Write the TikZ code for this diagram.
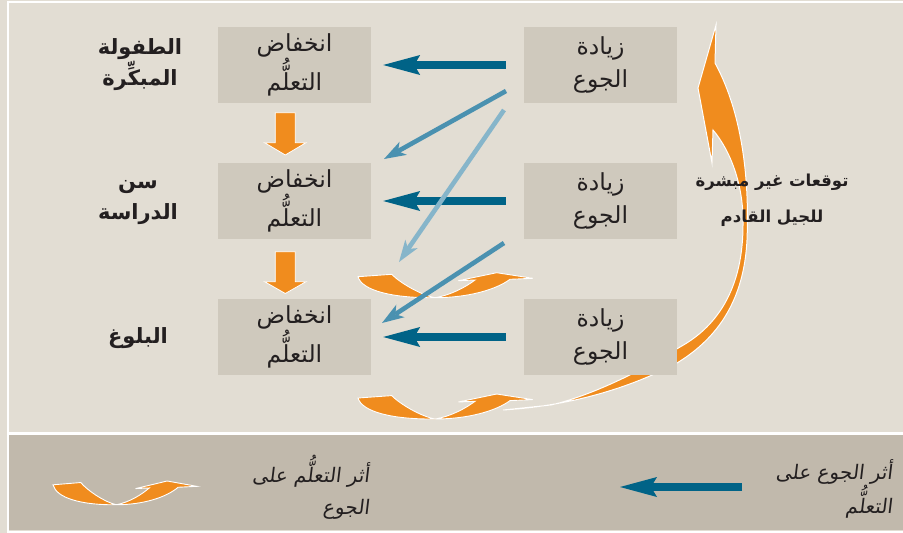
\documentclass[tikz,border=0pt]{standalone}
\usepackage{fontspec}
\usetikzlibrary{arrows.meta}
\TeXXeTstate=1
\newfontfamily\arfont[Script=Arabic]{DejaVu Sans}
\newfontfamily\arslant[Script=Arabic,FakeSlant=0.12]{DejaVu Sans}
\definecolor{bgmain}{HTML}{E2DDD3}
\definecolor{boxc}{HTML}{CFC9BD}
\definecolor{legbg}{HTML}{C1B9AC}
\definecolor{orng}{HTML}{F08C1E}
\definecolor{dblue}{HTML}{006387}
\definecolor{mblue}{HTML}{4A91B0}
\definecolor{lblue}{HTML}{86B5CA}
\definecolor{txt}{HTML}{231F20}
\newcommand\curvearr[4]{%
\begin{scope}[shift={(#1,#2)},xscale=#3,yscale=#4]
\path[fill=orng,draw=white,line width=0.9pt] (0,4) .. controls (4,18) and (35,25.5) .. (77,25)
 .. controls (110,25) and (138,17) .. (152,6.6) -- (174.7,5.6) -- (138.7,0) -- (100.3,8) -- (117,7.3)
 .. controls (108,14) and (94,22) .. (77,25) .. controls (62,22) and (42,10) .. (33.7,1.6) -- cycle;
\end{scope}}
\begin{document}
\begin{tikzpicture}[x=1pt,y=-1pt,
  box/.style={fill=boxc,minimum width=153pt,minimum height=76pt,inner sep=0pt,
    font=\arfont\fontsize{23.5}{33}\selectfont,align=center,text=txt},
  darr/.style={draw=dblue,line width=8pt,-{Stealth[length=37pt,width=20pt,inset=6pt,line width=0pt]}},
  diagarr/.style={line width=4.6pt,-{Stealth[length=22pt,width=15pt,inset=6pt,line width=0pt]}},
  lbl/.style={font=\arfont\bfseries\fontsize{21}{31}\selectfont,align=center,text=txt},
  legt/.style={font=\arslant\fontsize{20}{32}\selectfont,align=right,text=txt},
  downarr/.style={fill=orng,draw=white,line width=0.8pt}]
\useasboundingbox (0,0) rectangle (903,533);
% panels
\fill[bgmain] (0,0) rectangle (903,533);
\fill[legbg] (9,435) rectangle (903,530);
\draw[white,line width=2pt] (8,2) -- (903,2);
\draw[white,line width=2pt] (8,1) -- (8,533);
\draw[white,line width=2.5pt] (8,433.5) -- (903,433.5);
\draw[white,line width=2pt] (8,531.5) -- (903,531.5);
% big curved arrow
\path[fill=orng,draw=white,line width=1pt] (503,410) .. controls (570,406) and (630,388) .. (677,363)
  .. controls (718,338) and (744,300) .. (747,240) .. controls (750,165) and (738,105) .. (715,63)
  -- (716,25) -- (698,88) -- (712,163) -- (713,130)
  .. controls (730,150) and (744,185) .. (743,225) .. controls (743,285) and (720,325) .. (680,347)
  .. controls (640,372) and (590,396) .. (551,405) -- cycle;
% small curved arrows
\curvearr{358}{272.7}{1}{1}
\curvearr{358}{394}{1}{1}
% boxes
\node[box] (L1) at (294.5,65) {\beginR انخفاض\endR\\\beginR التعلُّم\endR};
\node[box] (L2) at (294.5,201) {\beginR انخفاض\endR\\\beginR التعلُّم\endR};
\node[box] (L3) at (294.5,337) {\beginR انخفاض\endR\\\beginR التعلُّم\endR};
\node[box] (R1) at (600.5,65) {\beginR زيادة\endR\\\beginR الجوع\endR};
\node[box] (R2) at (600.5,201) {\beginR زيادة\endR\\\beginR الجوع\endR};
\node[box] (R3) at (600.5,337) {\beginR زيادة\endR\\\beginR الجوع\endR};
% horizontal arrows
\draw[darr,shorten <=18pt,shorten >=12pt] (R1) -- (L1);
\draw[darr,shorten <=18pt,shorten >=12pt] (R2) -- (L2);
\draw[darr,shorten <=18pt,shorten >=12pt] (R3) -- (L3);
% diagonal arrows
\coordinate (d1s) at (506,91);  \coordinate (d1e) at (384,159);
\coordinate (d2s) at (504,110); \coordinate (d2e) at (399,262);
\coordinate (d3s) at (504,243); \coordinate (d3e) at (382,323);
\draw[diagarr,mblue] (d1s) -- (d1e);
\draw[diagarr,lblue] (d2s) -- (d2e);
\draw[diagarr,mblue] (d3s) -- (d3e);
% down arrows
\path[downarr] (275.3,112.7) -- (295.3,112.7) -- (295.3,142.7) -- (306,142.7) -- (285.3,155) -- (264.6,142.7) -- (275.3,142.7) -- cycle;
\path[downarr] (275.3,251.7) -- (295.3,251.7) -- (295.3,281.7) -- (306,281.7) -- (285.3,293.5) -- (264.6,281.7) -- (275.3,281.7) -- cycle;
% row labels
\node[lbl] (t1) at (140,65) {\beginR الطفولة\endR\\\beginR المبكِّرة\endR};
\node[lbl] (t2) at (138,203) {\beginR سن\endR\\\beginR الدراسة\endR};
\node[lbl] (t3) at (138,338) {\beginR البلوغ\endR};
\node[lbl,font=\arfont\bfseries\fontsize{16.5}{36}\selectfont] (t4) at (772,200) {\beginR توقعات غير مبشرة\endR\\\beginR للجيل القادم\endR};
% legend
\curvearr{53}{481}{0.823}{0.95}
\node[legt,anchor=east] (lg1) at (373,487) {\beginR أثر التعلُّم على\endR\\\beginR الجوع\endR};
\coordinate (lgs) at (742,487); \coordinate (lge) at (620,487);
\draw[darr] (lgs) -- (lge);
\node[legt,anchor=east] (lg2) at (896,489) {\beginR أثر الجوع على\endR\\\beginR التعلُّم\endR};
\end{tikzpicture}
\end{document}
